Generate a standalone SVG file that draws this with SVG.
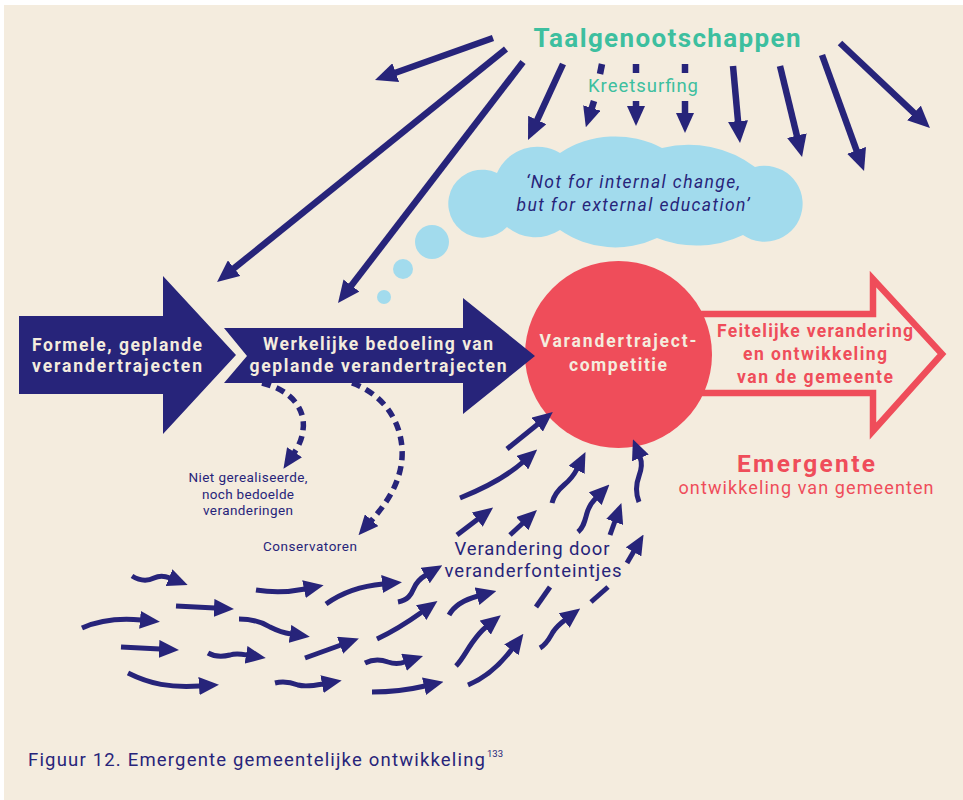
<svg xmlns="http://www.w3.org/2000/svg" width="963" height="800" viewBox="0 0 963 800">
  <style>
    text { font-family: Roboto, "Liberation Sans", Arial, sans-serif; }
    .navy { fill: #27247a; }
    .teal { fill: #3dbf9f; }
    .red { fill: #ef4d5a; }
    .cream { fill: #f4ecde; }
    .b { font-weight: 700; }
    .ln { fill: none; stroke: #27247a; stroke-width: 6.5; }
    .sm { fill: none; stroke: #27247a; stroke-width: 5; stroke-linecap: butt; }
    .dash { fill: none; stroke: #27247a; stroke-width: 5.5; stroke-dasharray: 9 6; }
  </style>
  <defs>
    <marker id="hL" viewBox="0 0 22 20" markerWidth="22" markerHeight="20" refX="1" refY="10" orient="auto" markerUnits="userSpaceOnUse">
      <path d="M0,0L22,10L0,20Z" fill="#27247a"/>
    </marker>
    <marker id="hS" viewBox="0 0 20 18" markerWidth="20" markerHeight="18" refX="1" refY="9" orient="auto" markerUnits="userSpaceOnUse">
      <path d="M0,0L20,9L0,18Z" fill="#27247a"/>
    </marker>
  </defs>

  <!-- page -->
  <rect width="963" height="800" fill="#ffffff"/>
  <rect x="4" y="5" width="959" height="795" fill="#f4ecde"/>

  <!-- thought cloud -->
  <g id="cloud" fill="#a2dbed">
    <path d="M507,227 A34,34 0 1 1 497,173 A44,44 0 0 1 560,153 A100,100 0 0 1 662,148 A110,110 0 0 1 755,167 A38,38 0 1 1 743,235 A107,107 0 0 1 657,238 A97,97 0 0 1 560,230 A45,45 0 0 1 507,227 Z"/>
    <circle cx="432" cy="242" r="17"/>
    <circle cx="403" cy="269" r="10"/>
    <circle cx="384" cy="297" r="7"/>
    <text class="navy" x="633" y="188" font-size="17.5" font-style="italic" text-anchor="middle" textLength="214">‘Not for internal change,</text>
    <text class="navy" x="633" y="211" font-size="17.5" font-style="italic" text-anchor="middle" textLength="233">but for external education’</text>
  </g>

  <!-- headline and sub-label -->
  <g id="taalgenootschappen">
    <text class="teal b" x="667" y="47" font-size="26" text-anchor="middle" textLength="267">Taalgenootschappen</text>
  </g>
  <g id="kreetsurfing">
    <text class="teal" x="643" y="92" font-size="18.5" text-anchor="middle" textLength="110">Kreetsurfing</text>
  </g>

  <!-- outlined outcome arrow (behind the circle) -->
  <g id="feitelijke-verandering">
    <path d="M690,314 L873,314 L873,279 L942,354 L873,431 L873,393 L690,393" fill="none" stroke="#ef4d5a" stroke-width="6.5" stroke-linejoin="miter" stroke-miterlimit="10"/>
    <text class="red b" x="815" y="337" font-size="17.5" text-anchor="middle" textLength="196">Feitelijke verandering</text>
    <text class="red b" x="815" y="360" font-size="17.5" text-anchor="middle" textLength="144">en ontwikkeling</text>
    <text class="red b" x="815" y="383" font-size="17.5" text-anchor="middle" textLength="156">van de gemeente</text>
  </g>

  <!-- competition circle -->
  <g id="competitie">
    <circle cx="618.5" cy="354.5" r="93.5" fill="#ef4d5a"/>
    <text class="cream b" x="618" y="347" font-size="17.5" text-anchor="middle" textLength="157">Varandertraject-</text>
    <text class="cream b" x="618" y="371" font-size="17.5" text-anchor="middle" textLength="98">competitie</text>
  </g>

  <!-- planned trajectories -->
  <g id="formele">
    <polygon class="navy" points="19,316 163,316 163,276 236,355 163,434 163,394 19,394"/>
    <text class="cream b" x="117" y="351" font-size="17.5" text-anchor="middle" textLength="170">Formele, geplande</text>
    <text class="cream b" x="117" y="372" font-size="17.5" text-anchor="middle" textLength="170">verandertrajecten</text>
  </g>
  <g id="werkelijke">
    <polygon class="navy" points="224,328 463,328 463,298 535,356 463,414 463,383 224,383 247,356"/>
    <text class="cream b" x="378" y="350" font-size="17.5" text-anchor="middle" textLength="230">Werkelijke bedoeling van</text>
    <text class="cream b" x="378" y="372" font-size="17.5" text-anchor="middle" textLength="257">geplande verandertrajecten</text>
  </g>

  <!-- outcome labels -->
  <g id="emergente">
    <text class="red b" x="806" y="472" font-size="24.5" text-anchor="middle" textLength="138">Emergente</text>
    <text class="red" x="806" y="494" font-size="18" text-anchor="middle" textLength="255">ontwikkeling van gemeenten</text>
  </g>
  <g id="niet-gerealiseerd">
    <text class="navy" x="248" y="482" font-size="13.5" text-anchor="middle" textLength="119">Niet gerealiseerde,</text>
    <text class="navy" x="248" y="499" font-size="13.5" text-anchor="middle" textLength="92">noch bedoelde</text>
    <text class="navy" x="248" y="515" font-size="13.5" text-anchor="middle" textLength="90">veranderingen</text>
  </g>
  <g id="conservatoren">
    <text class="navy" x="310" y="551" font-size="13.5" text-anchor="middle" textLength="94">Conservatoren</text>
  </g>
  <g id="fonteintjes">
    <text class="navy" x="532" y="555" font-size="18.5" text-anchor="middle" textLength="155">Verandering door</text>
    <text class="navy" x="533" y="577" font-size="18.5" text-anchor="middle" textLength="177">veranderfonteintjes</text>
  </g>

  <!-- connectors -->
  <g id="connectors">
    <!-- radiating from the language societies -->
    <path class="ln" marker-end="url(#hL)" d="M493,38 L394.8,73"/>
    <path class="ln" marker-end="url(#hL)" d="M506,49 L233.4,268.8"/>
    <path class="ln" marker-end="url(#hL)" d="M523,62 L350.8,286.3"/>
    <path class="ln" marker-end="url(#hL)" d="M563,64 L536.8,120.9"/>
    <path class="ln" marker-end="url(#hL)" d="M733,66 L738.1,122.1"/>
    <path class="ln" marker-end="url(#hL)" d="M780,66 L797.1,136.6"/>
    <path class="ln" marker-end="url(#hL)" d="M822,55 L856.9,151.3"/>
    <path class="ln" marker-end="url(#hL)" d="M840,43 L914.7,113.6"/>
    <!-- interrupted arrows around Kreetsurfing -->
    <path class="ln" d="M602,64 L600,74"/>
    <path class="ln" marker-end="url(#hS)" d="M594,101 L591.5,109"/>
    <path class="ln" d="M636,64 L636,73"/>
    <path class="ln" marker-end="url(#hS)" d="M636,101 L636,107"/>
    <path class="ln" d="M685,64 L685,73"/>
    <path class="ln" marker-end="url(#hS)" d="M685,101 L685,114"/>

    <!-- dashed side branches -->
    <path class="dash" marker-end="url(#hS)" d="M262,383 C292,390 306,410 303,430 C302,440 298,447 294,453"/>
    <path class="dash" marker-end="url(#hS)" d="M352,383 C388,396 404,428 402,458 C400,485 385,505 371,521"/>

    <!-- small change currents -->
    <path class="sm" marker-end="url(#hS)" d="M132,576 C140,581 148,581 154,578 C160,575 165,576 170,578"/>
    <path class="sm" marker-end="url(#hS)" d="M176,606 L215,608"/>
    <path class="sm" marker-end="url(#hS)" d="M82,628 C100,620 120,618 141,620"/>
    <path class="sm" marker-end="url(#hS)" d="M121,647 L160,649"/>
    <path class="sm" marker-end="url(#hS)" d="M128,673 C150,684 170,688 200,686"/>
    <path class="sm" marker-end="url(#hS)" d="M256,590 C275,593 290,592 305,589"/>
    <path class="sm" marker-end="url(#hS)" d="M239,619 C252,619 262,622 270,627 C278,631 284,633 291,634"/>
    <path class="sm" marker-end="url(#hS)" d="M208,653 C215,657 222,657 230,655 C236,653 241,654 247,655"/>
    <path class="sm" marker-end="url(#hS)" d="M275,683 C283,681 290,682 298,685 C305,687 312,686 323,684"/>
    <path class="sm" marker-end="url(#hS)" d="M326,604 C340,594 360,586 383,584"/>
    <path class="sm" marker-end="url(#hS)" d="M305,658 L341,645"/>
    <path class="sm" marker-end="url(#hS)" d="M398,602 C408,600 411,595 414,588 C417,581 421,578 426,575"/>
    <path class="sm" marker-end="url(#hS)" d="M377,639 C392,632 408,622 422,612"/>
    <path class="sm" marker-end="url(#hS)" d="M365,663 C373,659 380,659 388,662 C394,664 399,664 405,662"/>
    <path class="sm" marker-end="url(#hS)" d="M372,692 C390,692 408,690 425,686"/>

    <!-- fountains converging on the competition -->
    <path class="sm" marker-end="url(#hS)" d="M507,449 L538,424"/>
    <path class="sm" marker-end="url(#hS)" d="M460,498 C480,490 505,478 523,462"/>
    <path class="sm" marker-end="url(#hS)" d="M552,503 C554,495 558,490 564,485 C570,480 574,475 577,469"/>
    <path class="sm" marker-end="url(#hS)" d="M639,502 C635,492 636,484 639,476 C642,468 642,462 640,457"/>
    <path class="sm" marker-end="url(#hS)" d="M578,532 C584,527 585,520 587,513 C589,506 592,502 596,498"/>
    <path class="sm" marker-end="url(#hS)" d="M457,535 L478,519"/>
    <path class="sm" marker-end="url(#hS)" d="M510,535 L523,523"/>
    <path class="sm" marker-end="url(#hS)" d="M610,535 L615,521"/>
    <path class="sm" marker-end="url(#hS)" d="M627,563 L634,551"/>
    <path class="sm" d="M536,607 L550,587"/>
    <path class="sm" d="M591,602 L608,587"/>
    <path class="sm" marker-end="url(#hS)" d="M449,615 C454,606 463,600 478,596"/>
    <path class="sm" marker-end="url(#hS)" d="M540,648 C547,644 550,637 553,632 C557,626 561,623 565,620"/>
    <path class="sm" marker-end="url(#hS)" d="M456,666 C462,660 467,650 472,643 C477,636 481,631 486,627"/>
    <path class="sm" marker-end="url(#hS)" d="M468,685 C485,678 500,665 512,649"/>
  </g>

  <!-- caption -->
  <g id="caption">
    <text class="navy" x="28" y="766" font-size="18.5" textLength="457">Figuur 12. Emergente gemeentelijke ontwikkeling</text>
    <text class="navy" x="487" y="757" font-size="9.5">133</text>
  </g>
</svg>
